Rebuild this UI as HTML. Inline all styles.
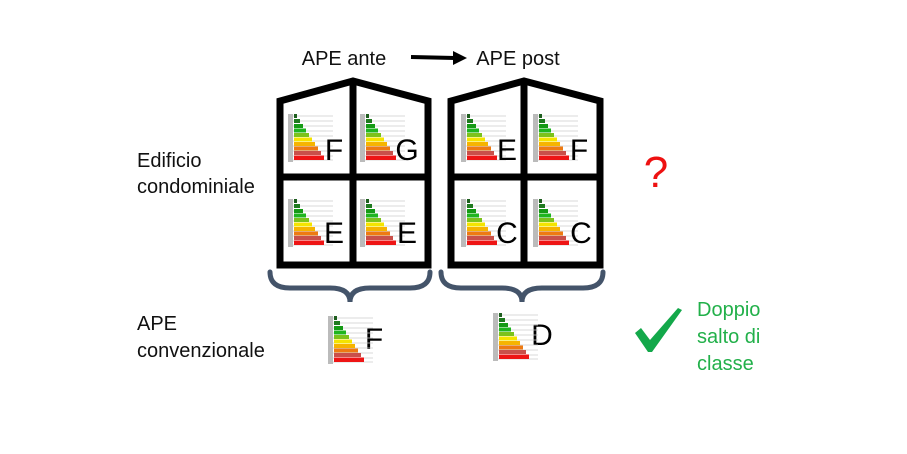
<!DOCTYPE html>
<html><head><meta charset="utf-8"><style>
body{margin:0;background:#fff}
svg{display:block}
text{font-family:"Liberation Sans",sans-serif}
</style></head><body>
<svg width="907" height="454" viewBox="0 0 907 454" xmlns="http://www.w3.org/2000/svg">
<defs>
<symbol id="lab" viewBox="0 0 46 48" width="46" height="48">
<rect x="0" y="0" width="5" height="48" fill="#bbb"/>
<g stroke="#ccc" stroke-width="0.8">
<line x1="5" y1="2" x2="45" y2="2"/><line x1="5" y1="7" x2="45" y2="7"/><line x1="5" y1="12" x2="45" y2="12"/><line x1="5" y1="17" x2="45" y2="17"/><line x1="5" y1="22" x2="45" y2="22"/><line x1="5" y1="27" x2="45" y2="27"/><line x1="5" y1="32" x2="45" y2="32"/><line x1="5" y1="37" x2="45" y2="37"/><line x1="5" y1="42" x2="45" y2="42"/><line x1="5" y1="46" x2="45" y2="46"/>
</g>
<rect x="6" y="0" width="3" height="4" fill="#1e5e1e"/>
<rect x="6" y="5" width="6" height="4" fill="#1f7a1f"/>
<rect x="6" y="10" width="9" height="4" fill="#159a15"/>
<rect x="6" y="14.5" width="12" height="4" fill="#1fb51f"/>
<rect x="6" y="19" width="15" height="4" fill="#7cc21b"/>
<rect x="6" y="23.5" width="18" height="4" fill="#f4e400"/>
<rect x="6" y="28" width="21" height="4" fill="#f6b400"/>
<rect x="6" y="32.5" width="24" height="4" fill="#ee7a12"/>
<rect x="6" y="37" width="27" height="4" fill="#c9504a"/>
<rect x="6" y="41.5" width="30" height="4.5" fill="#ee1515"/>
</symbol>
</defs>
<text x="344" y="65" font-size="20" text-anchor="middle" fill="#111">APE ante</text>
<text x="518" y="65" font-size="20" text-anchor="middle" fill="#111">APE post</text>
<line x1="411" y1="57" x2="455" y2="58" stroke="#000" stroke-width="4"/>
<polygon points="453,51 467,58 453,65" fill="#000"/>
<text x="137" y="167" font-size="20" fill="#111">Edificio</text>
<text x="137" y="193" font-size="20" fill="#111">condominiale</text>
<text x="137" y="330" font-size="20" fill="#111">APE</text>
<text x="137" y="357" font-size="20" fill="#111">convenzionale</text>
<text x="656" y="187" font-size="44" text-anchor="middle" fill="#ee1111">?</text>
<text x="697" y="316" font-size="20" fill="#22b04a">Doppio</text>
<text x="697" y="343" font-size="20" fill="#22b04a">salto di</text>
<text x="697" y="370" font-size="20" fill="#22b04a">classe</text>
<path d="M635,333 L641,328 L650,340 L678,308 L682,310 L652,352 L648,352 Z" fill="#13a84a"/>
<g fill="none" stroke="#000" stroke-width="7" stroke-linejoin="miter">
<path d="M280,265 L280,101 L353,81 L428,101 L428,265 Z"/>
<line x1="353" y1="81" x2="353" y2="265"/>
<line x1="280" y1="177" x2="428" y2="177"/>
<path d="M451,265 L451,101 L524,81 L600,101 L600,265 Z"/>
<line x1="524" y1="81" x2="524" y2="265"/>
<line x1="451" y1="177" x2="600" y2="177"/>
</g>
<use href="#lab" x="288" y="114"/><use href="#lab" x="360" y="114"/>
<use href="#lab" x="288" y="199"/><use href="#lab" x="360" y="199"/>
<use href="#lab" x="461" y="114"/><use href="#lab" x="533" y="114"/>
<use href="#lab" x="461" y="199"/><use href="#lab" x="533" y="199"/>
<g font-size="30" fill="#000" text-anchor="middle">
<text x="334" y="160">F</text><text x="407" y="160">G</text>
<text x="334" y="243">E</text><text x="407" y="243">E</text>
<text x="507" y="160">E</text><text x="579" y="160">F</text>
<text x="507" y="243">C</text><text x="581" y="243">C</text>
<text x="374" y="349">F</text><text x="542" y="345">D</text>
</g>
<use href="#lab" x="328" y="316"/>
<use href="#lab" x="493" y="313"/>
<g fill="none" stroke="#44546a" stroke-width="5" stroke-linecap="round">
<path d="M270,272 Q270,288 290,288 L330,288 Q350,288 350,302 Q350,288 370,288 L410,288 Q430,288 430,272"/>
<path d="M441,272 Q441,288 461,288 L502,288 Q522,288 522,302 Q522,288 542,288 L583,288 Q603,288 603,272"/>
</g>
</svg>
</body></html>
